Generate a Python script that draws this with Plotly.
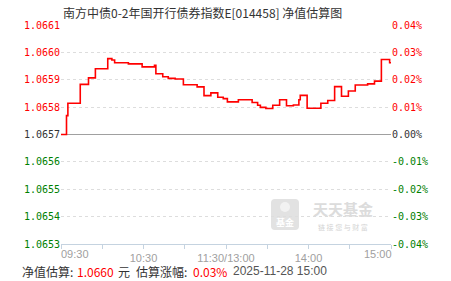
import plotly.graph_objects as go

# ---------------- data ----------------
title_text = "南方中债0-2年国开行债券指数E[014458] 净值估算图"
prev_nav = 1.0657
# minutes since 09:30 (trading minutes, lunch break removed) and estimated change in %
minutes = [0, 4, 5, 14, 20, 25, 34, 37, 39, 49, 59, 68, 69, 74, 78, 83, 89, 99, 104,
           109, 114, 118, 121, 129, 139, 143, 145, 149, 154, 159, 164, 169, 173, 174,
           179, 189, 194, 199, 204, 209, 214, 223, 228, 233, 239, 240]
pct = [0.0000, 0.0069, 0.0114, 0.0183, 0.0207, 0.0240, 0.0277, 0.0272, 0.0262, 0.0258,
       0.0247, 0.0253, 0.0222, 0.0211, 0.0205, 0.0203, 0.0182, 0.0174, 0.0142,
       0.0152, 0.0136, 0.0131, 0.0119, 0.0127, 0.0117, 0.0107, 0.0099, 0.0095, 0.0107,
       0.0127, 0.0105, 0.0108, 0.0127, 0.0143,
       0.0096, 0.0114, 0.0124, 0.0175, 0.0140, 0.0159, 0.0181, 0.0185, 0.0195, 0.0274,
       0.0262, 0.0262]
pct_ticks = [0.04, 0.03, 0.02, 0.01, 0.00, -0.01, -0.02, -0.03, -0.04]
nav_labels = ["1.0661", "1.0660", "1.0659", "1.0658", "1.0657", "1.0656", "1.0655", "1.0654", "1.0653"]
pct_labels = ["0.04%", "0.03%", "0.02%", "0.01%", "0.00%", "-0.01%", "-0.02%", "-0.03%", "-0.04%"]
x_tickvals = [0, 30, 60, 90, 120, 150, 180, 210, 240]
x_ticktext = ["", "", "10:30", "", "11:30/13:00", "", "14:00", "", ""]
first_label, last_label = "09:30", "15:00"
est_nav = "1.0660"
est_pct = "0.03%"
est_time = "2025-11-28 15:00"

# ---------------- layout helpers ----------------
W, H = 451, 281
L, R, T, B = 61, 60, 25, 37
PW, PH = W - L - R, H - T - B

def px(x):
    return (x - L) / PW

def py(y):
    return (H - B - y) / PH

RED, GREEN, GREY = "#ff0000", "#008000", "#333333"

def col(v):
    return RED if v > 0 else (GREEN if v < 0 else GREY)

left_text = [f"<span style='color:{col(v)}'>{t}</span>" for v, t in zip(pct_ticks, nav_labels)]
right_text = [f"<span style='color:{col(v)}'>{t}</span>" for v, t in zip(pct_ticks, pct_labels)]

fig = go.Figure()
fig.add_trace(go.Scatter(x=minutes, y=pct, mode="lines", line=dict(color="#ff0000", width=1.6, shape="hv"),
                         hoverinfo="skip", showlegend=False))
fig.add_trace(go.Scatter(x=minutes, y=pct, mode="lines", yaxis="y2", line=dict(color="rgba(0,0,0,0)", width=0),
                         hoverinfo="skip", showlegend=False))

mono = "DejaVu Sans Mono"
fig.update_layout(
    width=W, height=H,
    margin=dict(l=L, r=R, t=T, b=B, pad=0),
    paper_bgcolor="white", plot_bgcolor="white",
    xaxis=dict(range=[0, 240], tickvals=x_tickvals, ticktext=x_ticktext, showgrid=False, zeroline=False,
               showline=True, linecolor="#c5d3e0", linewidth=1, ticks="outside", ticklen=4,
               tickcolor="#c5d3e0", tickfont=dict(family="Liberation Sans", size=11, color="#a0a0a0"),
               fixedrange=True),
    yaxis=dict(range=[-0.04, 0.04], tickvals=pct_ticks, ticktext=left_text, showgrid=True,
               gridcolor="#dddddd", griddash="dot", gridwidth=1, zeroline=True, zerolinecolor="#a0a0a0",
               zerolinewidth=1.3, showline=False, ticks="", tickfont=dict(family=mono, size=10),
               fixedrange=True),
    yaxis2=dict(range=[-0.04, 0.04], overlaying="y", side="right", tickvals=pct_ticks, ticktext=right_text,
                showgrid=False, zeroline=False, showline=False, ticks="", tickfont=dict(family=mono, size=10),
                fixedrange=True),
    showlegend=False,
)

ann = []
# title
ann.append(dict(text=title_text, x=px(202), y=py(12), xref="paper", yref="paper", showarrow=False,
                xanchor="center", yanchor="middle",
                font=dict(family="Noto Sans CJK SC", size=12, color="#333333")))
# first / last x labels
ann.append(dict(text=first_label, x=px(59), y=py(254), xref="paper", yref="paper", showarrow=False,
                xanchor="left", yanchor="middle", font=dict(family="Liberation Sans", size=11, color="#a0a0a0")))
ann.append(dict(text=last_label, x=px(394), y=py(254), xref="paper", yref="paper", showarrow=False,
                xanchor="right", yanchor="middle", font=dict(family="Liberation Sans", size=11, color="#a0a0a0")))
# bottom info line
cjk = "Noto Sans CJK SC"
segments = [("净值估算:", 20, GREY, cjk), (est_nav, 75, RED, cjk), ("元", 116, GREY, cjk),
            ("估算涨幅:", 134, GREY, cjk), (est_pct, 191, RED, cjk), (est_time, 231, "#555555", "Liberation Sans")]
for text, x, c, fam in segments:
    ann.append(dict(text=text, x=px(x), y=py(271), xref="paper", yref="paper", showarrow=False,
                    xanchor="left", yanchor="middle", font=dict(family=fam, size=12, color=c)))
# watermark
ann.append(dict(text="<b>天天基金</b>", x=px(343), y=py(208), xref="paper", yref="paper", showarrow=False,
                xanchor="center", yanchor="middle", font=dict(family=cjk, size=15, color="#dcdcdc")))
ann.append(dict(text="链 接 您 与 财 富", x=px(343), y=py(227), xref="paper", yref="paper", showarrow=False,
                xanchor="center", yanchor="middle", font=dict(family=cjk, size=7, color="#d4d4d4")))
ann.append(dict(text="<b>基金</b>", x=px(285), y=py(222), xref="paper", yref="paper", showarrow=False,
                xanchor="center", yanchor="middle", font=dict(family=cjk, size=9, color="#ffffff")))
fig.update_layout(annotations=ann)

# watermark logo square (rounded)
x0, x1, y0, y1 = px(271), px(299), py(230), py(199)
rx, ry = 4 / PW, 4 / PH
path = (f"M {x0+rx},{y0} L {x1-rx},{y0} Q {x1},{y0} {x1},{y0+ry} L {x1},{y1-ry} Q {x1},{y1} {x1-rx},{y1} "
        f"L {x0+rx},{y1} Q {x0},{y1} {x0},{y1-ry} L {x0},{y0+ry} Q {x0},{y0} {x0+rx},{y0} Z")
fig.add_shape(type="path", path=path, xref="paper", yref="paper", fillcolor="#e2e2e2",
              line=dict(width=0), layer="below")
fig.add_shape(type="circle", xref="paper", yref="paper", x0=px(280), x1=px(290), y0=py(212), y1=py(202),
              fillcolor="#f2f2f2", line=dict(width=0), layer="below")

fig.write_html("out.html", config={"displayModeBar": False})
